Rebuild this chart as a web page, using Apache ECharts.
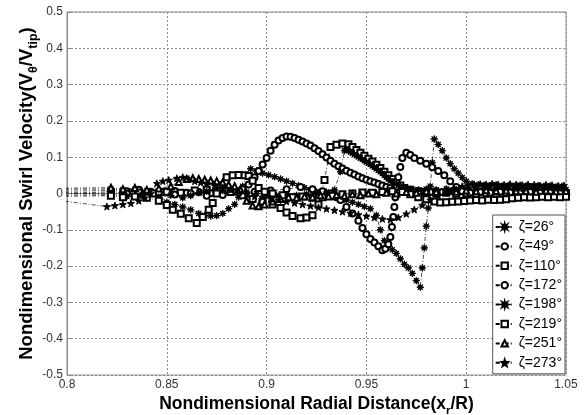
<!DOCTYPE html>
<html>
<head>
<meta charset="utf-8">
<script src="https://cdn.jsdelivr.net/npm/echarts@6/dist/echarts.min.js"></script>
<style>
  html, body { margin: 0; padding: 0; background: #fff; }
  #chart { width: 587px; height: 415px; }
</style>
</head>
<body>
<div id="chart"></div>
<script>
// Swirl velocity profiles across the radial traverse, one per azimuth angle zeta.
const seriesNames = ['ζ=26°', 'ζ=49°', 'ζ=110°', 'ζ=172°', 'ζ=198°', 'ζ=219°', 'ζ=251°', 'ζ=273°'];
const xTicks = [0.8, 0.85, 0.9, 0.95, 1, 1.05];
const yTicks = [-0.5, -0.4, -0.3, -0.2, -0.1, 0, 0.1, 0.2, 0.3, 0.4, 0.5];

// [x_r/R, V_theta/V_tip]
const zeta26 = [[0.79,0.012],[0.822,0.012],[0.828,0.010],[0.834,0.011],[0.840,0.008],[0.845,0.002],[0.850,-0.024],[0.854,-0.030],[0.858,-0.037],[0.862,-0.045],[0.866,-0.055],[0.869,-0.060],[0.872,-0.062],[0.875,-0.061],[0.878,-0.055],[0.881,-0.042],[0.884,-0.030],[0.886,-0.010],[0.888,0.020],[0.890,0.050],[0.892,0.068],[0.895,0.062],[0.898,0.056],[0.901,0.051],[0.904,0.046],[0.907,0.040],[0.910,0.034],[0.913,0.028],[0.916,0.022],[0.919,0.016],[0.922,0.010],[0.925,0.005],[0.928,0.000],[0.931,-0.005],[0.934,-0.010],[0.937,-0.014],[0.940,-0.018],[0.943,-0.024],[0.946,-0.030],[0.949,-0.036],[0.952,-0.042],[0.955,-0.060],[0.957,-0.100],[0.959,-0.130],[0.961,-0.145],[0.963,-0.155],[0.965,-0.165],[0.967,-0.180],[0.969,-0.195],[0.971,-0.205],[0.973,-0.220],[0.975,-0.240],[0.977,-0.258],[0.978,-0.205],[0.979,-0.150],[0.980,-0.090],[0.981,-0.040],[0.982,0.020],[0.983,0.085],[0.984,0.150],[0.986,0.135],[0.988,0.118],[0.990,0.098],[0.992,0.082],[0.994,0.068],[0.996,0.056],[0.998,0.044],[1.000,0.034],[1.003,0.027],[1.006,0.024],[1.009,0.023],[1.012,0.022],[1.015,0.024],[1.018,0.021],[1.021,0.022],[1.024,0.020],[1.027,0.023],[1.030,0.021],[1.033,0.019],[1.036,0.022],[1.039,0.020],[1.042,0.021],[1.045,0.018],[1.048,0.020],[1.051,0.019]];
const zeta49 = [[0.79,0.006],[0.822,0.008],[0.830,0.006],[0.836,0.010],[0.842,0.005],[0.848,0.004],[0.854,0.007],[0.860,0.002],[0.866,0.004],[0.872,0.001],[0.878,0.003],[0.884,0.006],[0.888,0.012],[0.891,0.025],[0.894,0.045],[0.896,0.062],[0.898,0.080],[0.900,0.098],[0.902,0.118],[0.904,0.134],[0.906,0.146],[0.908,0.153],[0.910,0.157],[0.912,0.156],[0.914,0.153],[0.916,0.148],[0.918,0.143],[0.920,0.138],[0.922,0.132],[0.924,0.125],[0.926,0.117],[0.928,0.108],[0.930,0.099],[0.932,0.090],[0.934,0.082],[0.936,0.075],[0.938,0.069],[0.940,0.063],[0.942,0.057],[0.944,0.052],[0.946,0.047],[0.948,0.042],[0.950,0.038],[0.952,0.034],[0.954,0.030],[0.956,0.026],[0.958,0.022],[0.960,0.018],[0.962,0.015],[0.964,0.012],[0.966,0.009],[0.969,0.006],[0.972,0.004],[0.976,0.003],[0.979,0.005],[0.982,0.004],[0.985,0.006],[0.988,0.004],[0.991,0.006],[0.994,0.005],[0.997,0.007],[1.000,0.006],[1.003,0.008],[1.006,0.006],[1.009,0.007],[1.012,0.005],[1.015,0.007],[1.018,0.006],[1.021,0.008],[1.024,0.005],[1.027,0.006],[1.030,0.004],[1.033,0.006],[1.036,0.005],[1.039,0.004],[1.042,0.006],[1.045,0.003],[1.048,0.005],[1.051,0.004]];
const zeta110 = [[0.79,0.000],[0.822,0.004],[0.829,-0.002],[0.836,0.003],[0.843,0.000],[0.850,0.005],[0.857,0.002],[0.864,0.008],[0.870,0.010],[0.876,0.006],[0.882,0.004],[0.888,-0.005],[0.893,-0.015],[0.898,-0.022],[0.903,-0.030],[0.907,-0.040],[0.910,-0.052],[0.913,-0.062],[0.917,-0.068],[0.920,-0.066],[0.923,-0.060],[0.926,-0.030],[0.929,0.037],[0.932,0.128],[0.935,0.134],[0.938,0.138],[0.941,0.136],[0.943,0.128],[0.945,0.120],[0.947,0.112],[0.949,0.104],[0.951,0.096],[0.953,0.088],[0.955,0.079],[0.957,0.070],[0.959,0.060],[0.961,0.050],[0.963,0.040],[0.965,0.030],[0.967,0.022],[0.969,0.015],[0.972,0.010],[0.976,0.006],[0.980,0.002],[0.985,0.000],[0.990,0.002],[0.995,-0.001],[1.000,0.001],[1.005,-0.001],[1.010,0.001],[1.015,0.000],[1.020,0.002],[1.025,-0.001],[1.030,0.001],[1.035,0.000],[1.040,0.002],[1.045,0.000],[1.050,0.001]];
const zeta172 = [[0.79,0.003],[0.822,-0.002],[0.830,0.000],[0.838,-0.004],[0.846,0.002],[0.854,-0.003],[0.862,0.000],[0.870,-0.006],[0.878,-0.004],[0.886,0.002],[0.894,0.005],[0.902,0.008],[0.910,0.012],[0.917,0.018],[0.923,0.012],[0.928,0.006],[0.932,0.000],[0.935,-0.010],[0.937,-0.018],[0.940,-0.037],[0.943,-0.055],[0.946,-0.075],[0.948,-0.095],[0.950,-0.112],[0.952,-0.125],[0.954,-0.135],[0.956,-0.145],[0.958,-0.156],[0.9595,-0.152],[0.961,-0.140],[0.962,-0.120],[0.9628,-0.092],[0.9635,-0.065],[0.964,-0.037],[0.9645,-0.010],[0.965,0.018],[0.966,0.045],[0.967,0.073],[0.968,0.098],[0.970,0.112],[0.972,0.106],[0.974,0.098],[0.977,0.090],[0.980,0.082],[0.983,0.072],[0.986,0.062],[0.989,0.050],[0.992,0.034],[0.995,0.018],[0.998,0.006],[1.002,0.002],[1.007,0.004],[1.012,0.002],[1.017,0.005],[1.022,0.003],[1.027,0.001],[1.032,0.004],[1.037,0.002],[1.042,0.003],[1.047,0.001],[1.052,0.002]];
const zeta198 = [[0.79,-0.004],[0.822,-0.004],[0.830,-0.008],[0.838,-0.006],[0.846,-0.010],[0.852,-0.005],[0.858,-0.012],[0.862,-0.006],[0.866,0.002],[0.870,0.006],[0.874,0.010],[0.878,0.008],[0.882,0.012],[0.886,0.008],[0.890,0.004],[0.895,0.000],[0.900,-0.004],[0.905,-0.006],[0.910,-0.003],[0.915,-0.005],[0.920,-0.002],[0.925,0.000],[0.930,0.004],[0.934,0.010],[0.937,0.060],[0.939,0.118],[0.940,0.122],[0.941,0.118],[0.942,0.114],[0.943,0.111],[0.944,0.108],[0.945,0.104],[0.946,0.101],[0.947,0.097],[0.948,0.094],[0.949,0.090],[0.950,0.087],[0.951,0.083],[0.952,0.080],[0.953,0.076],[0.954,0.072],[0.955,0.068],[0.956,0.064],[0.957,0.060],[0.958,0.055],[0.959,0.050],[0.960,0.045],[0.961,0.040],[0.962,0.035],[0.964,0.028],[0.966,0.022],[0.969,0.016],[0.972,0.012],[0.976,0.010],[0.980,0.012],[0.985,0.010],[0.990,0.013],[0.995,0.011],[1.000,0.012],[1.005,0.010],[1.010,0.013],[1.015,0.011],[1.020,0.012],[1.025,0.010],[1.030,0.012],[1.035,0.011],[1.040,0.013],[1.045,0.010],[1.050,0.011]];
const zeta219 = [[0.79,-0.008],[0.822,-0.006],[0.828,-0.010],[0.834,-0.008],[0.840,-0.012],[0.846,-0.020],[0.850,-0.032],[0.853,-0.045],[0.857,-0.056],[0.861,-0.068],[0.865,-0.081],[0.868,-0.065],[0.871,-0.045],[0.873,-0.026],[0.875,0.000],[0.877,0.023],[0.880,0.045],[0.883,0.050],[0.886,0.051],[0.889,0.050],[0.891,0.048],[0.893,0.035],[0.896,0.015],[0.899,0.005],[0.903,0.000],[0.908,-0.005],[0.913,-0.010],[0.918,-0.008],[0.923,-0.012],[0.928,-0.010],[0.933,-0.006],[0.938,-0.002],[0.943,0.000],[0.948,0.003],[0.953,0.002],[0.958,0.004],[0.963,0.006],[0.968,0.004],[0.972,-0.002],[0.976,-0.010],[0.980,-0.016],[0.984,-0.022],[0.987,-0.025],[0.990,-0.024],[0.993,-0.023],[0.996,-0.022],[0.999,-0.021],[1.002,-0.019],[1.005,-0.018],[1.008,-0.019],[1.011,-0.017],[1.014,-0.018],[1.017,-0.017],[1.020,-0.016],[1.023,-0.013],[1.026,-0.012],[1.029,-0.010],[1.032,-0.011],[1.035,-0.010],[1.038,-0.009],[1.041,-0.010],[1.044,-0.009],[1.047,-0.010],[1.050,-0.009]];
const zeta251 = [[0.79,0.014],[0.822,0.016],[0.828,0.012],[0.834,0.015],[0.840,0.010],[0.846,0.014],[0.852,0.020],[0.856,0.032],[0.860,0.040],[0.863,0.042],[0.866,0.040],[0.869,0.038],[0.872,0.036],[0.875,0.034],[0.878,0.030],[0.881,0.024],[0.884,0.020],[0.887,0.010],[0.890,-0.020],[0.893,-0.033],[0.896,-0.035],[0.899,-0.030],[0.903,-0.022],[0.907,-0.015],[0.911,-0.010],[0.915,-0.012],[0.919,-0.008],[0.923,-0.010],[0.927,-0.005],[0.931,-0.008],[0.935,-0.004],[0.939,-0.006],[0.943,-0.002],[0.947,-0.005],[0.951,0.000],[0.955,-0.002],[0.960,0.002],[0.965,0.000],[0.970,0.004],[0.975,0.002],[0.980,0.006],[0.985,0.004],[0.990,0.007],[0.995,0.005],[1.000,0.008],[1.005,0.006],[1.010,0.009],[1.015,0.007],[1.020,0.008],[1.025,0.006],[1.030,0.007],[1.035,0.005],[1.040,0.008],[1.045,0.006],[1.050,0.007]];
const zeta273 = [[0.79,-0.015],[0.820,-0.036],[0.824,-0.033],[0.828,-0.030],[0.832,-0.027],[0.836,-0.020],[0.839,-0.012],[0.842,0.000],[0.845,0.028],[0.848,0.034],[0.851,0.037],[0.855,0.042],[0.858,0.045],[0.861,0.040],[0.864,0.034],[0.867,0.030],[0.870,0.026],[0.874,0.022],[0.878,0.016],[0.882,0.010],[0.886,0.004],[0.890,-0.002],[0.894,-0.008],[0.898,-0.010],[0.902,-0.014],[0.906,-0.018],[0.910,-0.022],[0.914,-0.026],[0.918,-0.030],[0.922,-0.034],[0.926,-0.038],[0.930,-0.042],[0.934,-0.046],[0.938,-0.050],[0.942,-0.054],[0.946,-0.058],[0.950,-0.062],[0.954,-0.066],[0.958,-0.070],[0.962,-0.072],[0.966,-0.066],[0.970,-0.056],[0.974,-0.044],[0.978,-0.032],[0.982,-0.018],[0.986,-0.006],[0.990,0.006],[0.994,0.014],[0.998,0.020],[1.001,0.023],[1.004,0.025],[1.007,0.026],[1.010,0.025],[1.013,0.027],[1.016,0.025],[1.019,0.024],[1.022,0.026],[1.025,0.025],[1.028,0.023],[1.031,0.025],[1.034,0.024],[1.037,0.022],[1.040,0.024],[1.043,0.023],[1.046,0.021],[1.049,0.022]];

const seriesData = [zeta26, zeta49, zeta110, zeta172, zeta198, zeta219, zeta251, zeta273];

// marker shapes: asterisk, circle, square, circle, asterisk, square, triangle, pentagram
const asterisk = 'path://M0,-10L1.6,-3.8L7.1,-7.1L3.8,-1.6L10,0L3.8,1.6L7.1,7.1L1.6,3.8L0,10L-1.6,3.8L-7.1,7.1L-3.8,1.6L-10,0L-3.8,-1.6L-7.1,-7.1L-1.6,-3.8Z';
const pentagram = 'path://M0,-10L2.4,-3.3L9.5,-3.1L3.9,1.3L5.9,8.1L0,4.1L-5.9,8.1L-3.9,1.3L-9.5,-3.1L-2.4,-3.3Z';
const markers = [asterisk, 'emptyCircle', 'emptyRect', 'emptyCircle', asterisk, 'emptyRect', 'emptyTriangle', pentagram];
const markerSizes = [7, 6, 6, 6, 7, 6, 6, 7];

const chart = echarts.init(document.getElementById('chart'), null, { renderer: 'canvas' });

const fmt = v => String(parseFloat(v.toFixed(2)));
const titleFont = 'Liberation Sans, Arial';

chart.setOption({
  backgroundColor: '#ffffff',
  animation: false,
  grid: {
    left: 67, right: 21, top: 12, bottom: 40,
    outerBoundsMode: 'none', containLabel: false,
    show: true, borderColor: '#8c8c8c', borderWidth: 1, backgroundColor: '#fff'
  },
  xAxis: {
    type: 'value', min: xTicks[0], max: xTicks[xTicks.length - 1], interval: 0.05,
    axisLine: { show: true, lineStyle: { color: '#8c8c8c' } },
    axisTick: { show: true, inside: true, length: 4, lineStyle: { color: '#8c8c8c' } },
    axisLabel: { color: '#333', fontSize: 12, fontFamily: titleFont, margin: 4, formatter: fmt },
    splitLine: { show: true, lineStyle: { color: '#8c8c8c', type: [2, 2], width: 1 } },
    name: 'Nondimensional Radial Distance(x{sub|r}/R)',
    nameLocation: 'middle', nameGap: 17, nameMoveOverlap: false,
    nameTextStyle: {
      fontFamily: titleFont, fontWeight: 'bold', fontSize: 17.5, color: '#000',
      rich: { sub: { fontFamily: titleFont, fontWeight: 'bold', fontSize: 11.5, color: '#000', padding: [13, 0, 0, 0] } }
    }
  },
  yAxis: {
    type: 'value', min: yTicks[0], max: yTicks[yTicks.length - 1], interval: 0.1,
    axisLine: { show: true, lineStyle: { color: '#8c8c8c' } },
    axisTick: { show: true, inside: true, length: 4, lineStyle: { color: '#8c8c8c' } },
    axisLabel: { color: '#333', fontSize: 12, fontFamily: titleFont, margin: 4, formatter: fmt },
    splitLine: { show: true, lineStyle: { color: '#8c8c8c', type: [2, 2], width: 1 } },
    name: 'Nondimensional Swirl Velocity(V{sub|θ}/V{sub|tip})',
    nameLocation: 'middle', nameGap: 27, nameRotate: 90, nameMoveOverlap: false,
    nameTextStyle: {
      fontFamily: titleFont, fontWeight: 'bold', fontSize: 18.5, color: '#000',
      rich: { sub: { fontFamily: titleFont, fontWeight: 'bold', fontSize: 12.5, color: '#000', padding: [13, 0, 0, 0] } }
    }
  },
  legend: {
    data: seriesNames,
    orient: 'vertical', right: 22, top: 215,
    backgroundColor: '#fff', borderColor: '#555', borderWidth: 1,
    padding: [4, 3, 3, 2], itemGap: 3.4, itemWidth: 18, itemHeight: 8,
    textStyle: { fontFamily: titleFont, fontSize: 14, lineHeight: 16, color: '#000' }
  },
  series: seriesNames.map((name, i) => ({
    name: name,
    type: 'line',
    data: seriesData[i],
    symbol: markers[i],
    symbolSize: markerSizes[i],
    showAllSymbol: true,
    clip: true,
    color: '#000',
    itemStyle: { color: '#000', borderColor: '#000', borderWidth: 0.9 },
    lineStyle: { color: '#000', width: 0.7, type: [4, 2, 1, 2] },
    emphasis: { disabled: true }
  }))
});
</script>
</body>
</html>
